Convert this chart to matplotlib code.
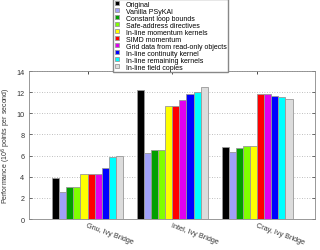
import matplotlib
matplotlib.use("Agg")
import matplotlib.pyplot as plt
import numpy as np

compilers = ["Gnu, Ivy Bridge", "Intel, Ivy Bridge", "Cray, Ivy Bridge"]
series = ["Original", "Vanilla PSyKAl", "Constant loop bounds", "Safe-address directives",
          "In-line momentum kernels", "SIMD momentum", "Grid data from read-only objects",
          "In-line continuity kernel", "In-line remaining kernels", "In-line field copies"]
gnu = [3.85, 2.55, 3.05, 3.05, 4.3, 4.3, 4.3, 4.8, 5.9, 5.95]
intel = [12.2, 6.25, 6.55, 6.55, 10.7, 10.7, 11.3, 11.8, 12.0, 12.5]
cray = [6.8, 6.3, 6.7, 6.95, 6.9, 11.8, 11.8, 11.6, 11.5, 11.4]
colors = ["#000000", "#a0a0f8", "#00a000", "#80ff00", "#ffff00", "#ff0000",
          "#e000f0", "#0000ff", "#00ffff", "#dcdcdc"]

values = np.array([gnu, intel, cray])

plt.rcParams['font.family'] = ['Liberation Sans', 'DejaVu Sans']
fig = plt.figure(figsize=(3.2, 2.51), dpi=100)
ax = fig.add_axes([0.0916, 0.1235, 0.8924, 0.5895])

n = len(series)
w = 1.0 / 12
x = np.arange(len(compilers))
for i in range(n):
    ax.bar(x + (i - (n - 1) / 2) * w, values[:, i], width=w, color=colors[i],
           edgecolor="#999999", linewidth=0.6, label=series[i], zorder=3)

ax.set_xlim(-0.686, 2.68)
ax.set_ylim(0, 14)
ax.set_yticks(range(0, 15, 2))
ax.set_xticks(x)
ax.set_xticklabels(compilers, rotation=-20, ha='left', rotation_mode='anchor',
                   fontsize=5.2, color="#333333")
ax.tick_params(axis='y', labelsize=5.2, colors="#333333", direction='in', length=2,
               right=True, width=0.5)
ax.tick_params(axis='x', direction='in', length=2, top=True, width=0.5, pad=2)
ax.grid(axis='y', linestyle=(0, (1, 2)), color="#aaaaaa", linewidth=0.6, zorder=0)
for s in ax.spines.values():
    s.set_color("#888888")
    s.set_linewidth(0.6)
ax.set_ylabel("Performance (10$^6$ points per second)", fontsize=5, color="#333333", labelpad=2)

fig.legend(loc='upper left', bbox_to_anchor=(113 / 320, 1.0), fontsize=5.0,
           frameon=True, fancybox=False, edgecolor="#888888", framealpha=1,
           handlelength=0.6, handleheight=0.6, handletextpad=1.0, labelspacing=0.0,
           borderpad=0.25, borderaxespad=0)

fig.savefig("out.png", dpi=100)
